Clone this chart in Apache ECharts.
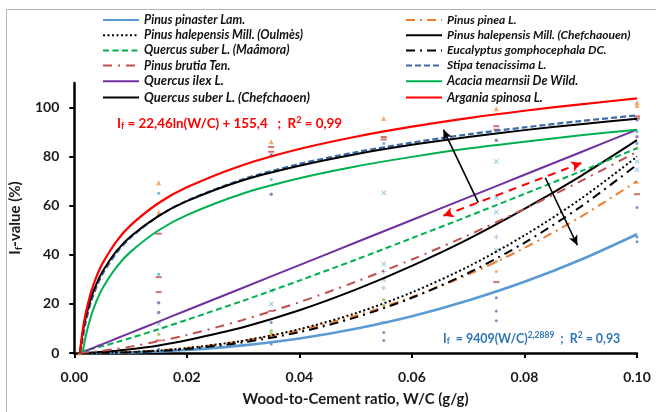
<!DOCTYPE html>
<html>
<head>
<meta charset="utf-8">
<script src="https://cdn.jsdelivr.net/npm/echarts@6/dist/echarts.min.js"></script>
<style>
  html, body { margin: 0; padding: 0; background: #fff; }
  #chart { width: 656px; height: 412px; }
</style>
</head>
<body>
<div id="chart"></div>
<script>
const wcRatio = [0.001, 0.0015, 0.002, 0.003, 0.004, 0.005, 0.0075, 0.01, 0.015, 0.02,
  0.03, 0.04, 0.05, 0.06, 0.07, 0.08, 0.09, 0.1];

// fitted curves, If-value (%)
const pinusPinaster = [0, 0, 0.01, 0.02, 0.03, 0.05, 0.13, 0.25, 0.63, 1.2, 3.1, 5.9, 9.9, 15.0, 21.4, 29.0, 38.0, 48.4];
const pinusHalepensisOulmes = [0, 0.01, 0.01, 0.03, 0.05, 0.08, 0.21, 0.4, 1.0, 2.0, 5.0, 9.7, 16.2, 24.7, 35.2, 47.9, 62.8, 80];
const quercusSuberMaamora = [0.45, 0.72, 1.0, 1.6, 2.2, 2.8, 4.4, 6.1, 9.7, 13.5, 21.3, 29.5, 38.0, 46.8, 55.7, 64.8, 74.0, 83.4];
const pinusBrutia = [0.08, 0.15, 0.23, 0.43, 0.66, 0.92, 1.7, 2.6, 4.8, 7.3, 13.5, 20.7, 29.0, 38.1, 48.0, 58.7, 70.0, 82];
const quercusIlex = [null, null, 0.8, 1.8, 2.7, 3.6, 5.9, 8.2, 12.8, 17.4, 26.6, 35.8, 45.0, 54.2, 63.4, 72.6, 81.8, 91.0];
const quercusSuberChef = [0, 8.1, 14.0, 22.5, 28.5, 33.1, 41.5, 47.5, 55.9, 61.9, 70.4, 76.3, 81.0, 84.8, 88.0, 90.8, 93.2, 95.4];
const pinusPinea = [0, 0.01, 0.01, 0.03, 0.06, 0.1, 0.23, 0.44, 1.1, 2.0, 5.0, 9.3, 15.2, 22.8, 31.9, 42.8, 55.5, 70];
const pinusHalepensisChef = [0, 0.06, 0.09, 0.19, 0.31, 0.46, 0.93, 1.5, 3.1, 5.2, 10.5, 17.4, 25.8, 35.5, 46.4, 58.7, 72.1, 86.7];
const eucalyptus = [0, 0, 0.01, 0.02, 0.03, 0.06, 0.15, 0.31, 0.81, 1.6, 4.3, 8.5, 14.5, 22.5, 32.6, 44.9, 59.6, 76.7];
const stipa = [0, 6.0, 12.3, 21.0, 27.2, 32.1, 40.8, 47.0, 55.8, 62.0, 70.8, 77.0, 81.8, 85.7, 89.1, 91.9, 94.5, 96.8];
const acacia = [null, 0.3, 6.5, 15.2, 21.4, 26.3, 35.0, 41.2, 50.0, 56.2, 65.0, 71.2, 76.0, 79.9, 83.3, 86.1, 88.7, 91.0];
const argania = [0, 9.4, 15.8, 24.9, 31.4, 36.4, 45.5, 52.0, 61.1, 67.5, 76.6, 83.1, 88.1, 92.2, 95.7, 98.7, 101.3, 103.7];

// measured points [W/C, If]
const ptsTriangle = [[0.001, 0], [0.015, 69.4], [0.015, 57.3], [0.035, 86.1], [0.055, 95.5], [0.075, 99.5], [0.1, 102.1], [0.1, 100.8]];
const ptsDash = [[0.015, 48.6], [0.015, 30.9], [0.015, 24.8], [0.015, 5.1], [0.035, 83.9], [0.035, 82], [0.035, 17.1],
  [0.055, 88], [0.055, 87], [0.055, 12.4], [0.075, 92.4], [0.075, 91], [0.075, 28.9], [0.1, 96.4], [0.1, 95.5], [0.1, 64.7]];
const ptsCyan = [[0.015, 65.1], [0.015, 32.1], [0.035, 70.7], [0.055, 85.4], [0.1, 90.1]];
const ptsPurple = [[0.015, 20.5], [0.015, 16.5], [0.035, 64.7], [0.035, 80.7], [0.075, 86.7], [0.1, 88.1]];
const ptsCross = [[0.015, 11.8], [0.035, 25.4], [0.035, 20], [0.055, 65.3], [0.055, 36.3], [0.055, 29.8],
  [0.075, 78], [0.075, 63.3], [0.075, 57.3], [0.075, 41.9], [0.1, 78], [0.1, 74.7]];
const ptsPlus = [[0.055, 33.2], [0.055, 26.5], [0.075, 47.3]];
const ptsOlive = [[0.015, 7.6], [0.035, 9.1], [0.035, 7.8], [0.055, 21.7], [0.055, 19.3], [0.075, 37.3], [0.1, 83.4]];
const ptsBlue = [[0.015, 1.6], [0.035, 3.7], [0.035, 12.4], [0.055, 8.4], [0.055, 5.1], [0.075, 22.5], [0.075, 17.1],
  [0.075, 13.1], [0.1, 59.3], [0.1, 47.3], [0.1, 45.3], [0.1, 94.8], [0.1, 85.4]];
const ptsOrange = [[0.1, 69.4], [0.075, 33.2]];

const xTicks = [0, 0.02, 0.04, 0.06, 0.08, 0.1];
const yTicks = [0, 20, 40, 60, 80, 100];

const legendLeft = ['Pinus pinaster Lam.', 'Pinus halepensis Mill. (Oulmès)', 'Quercus suber L. (Maâmora)',
  'Pinus brutia Ten.', 'Quercus ilex L.', 'Quercus suber L. (Chefchaoen)'];
const legendRight = ['Pinus pinea L.', 'Pinus halepensis Mill. (Chefchaouen)', 'Eucalyptus gomphocephala DC.',
  'Stipa tenacissima L.', 'Acacia mearnsii De Wild.', 'Argania spinosa L.'];

const FONT = 'Lato, "Open Sans", sans-serif';

function pairs(vals) {
  let out = [];
  for (let i = 0; i < wcRatio.length; i++) {
    if (vals[i] !== null) out.push([wcRatio[i], vals[i]]);
  }
  return out;
}

function curve(name, vals, color, type, width) {
  return {
    name: name,
    type: 'line',
    data: pairs(vals),
    symbol: 'none',
    smooth: 0.3,
    lineStyle: { color: color, width: width || 2, type: type || 'solid' },
    itemStyle: { color: color },
    z: 3
  };
}

function points(data, color, symbol, size) {
  return {
    name: '',
    type: 'scatter',
    data: data,
    symbol: symbol,
    symbolSize: size,
    itemStyle: { color: color },
    z: 2
  };
}

// the last two rows of each column use a bigger font in the original
function legendItems(names, small, big) {
  return names.map(function (n, i) {
    return { name: n, textStyle: { fontSize: i >= 4 ? big : small } };
  });
}

const crossPath = 'path://M0,1L1,0L5,4L9,0L10,1L6,5L10,9L9,10L5,6L1,10L0,9L4,5Z';
const plusPath = 'path://M4,0L6,0L6,4L10,4L10,6L6,6L6,10L4,10L4,6L0,6L0,4L4,4Z';

let myChart = echarts.init(document.getElementById('chart'));
let legendBase = {
  orient: 'vertical',
  top: 9,
  itemWidth: 36,
  itemHeight: 12,
  itemGap: 3.2,
  itemStyle: { opacity: 0 },
  textStyle: { fontFamily: FONT, fontStyle: 'italic', fontWeight: 'bold', fontSize: 12, color: '#111' }
};

let option = {
  animation: false,
  backgroundColor: '#fff',
  grid: { left: 67, right: 19, top: 83, bottom: 56 },
  legend: [
    Object.assign({}, legendBase, { data: legendItems(legendLeft, 12.3, 13), left: 97 }),
    Object.assign({}, legendBase, { data: legendItems(legendRight, 12, 12.5), left: 400 })
  ],
  xAxis: {
    type: 'value',
    min: 0,
    max: 0.1,
    interval: 0.02,
    name: 'Wood-to-Cement ratio, W/C (g/g)',
    nameLocation: 'middle',
    nameGap: 39,
    nameTextStyle: { fontFamily: FONT, fontWeight: 'bold', fontSize: 15, color: '#1a1a1a' },
    axisLine: { lineStyle: { color: '#000', width: 2.5 } },
    axisTick: { length: 5, lineStyle: { width: 2, color: '#000' }, customValues: xTicks },
    axisLabel: {
      margin: 17,
      fontFamily: FONT, fontWeight: 'bold', fontSize: 14, color: '#1a1a1a',
      customValues: xTicks,
      formatter: function (v) { return v.toFixed(2); }
    },
    splitLine: { show: false }
  },
  yAxis: {
    type: 'value',
    min: 0,
    max: 110,
    interval: 20,
    name: '{a|I}{s|f}{a|-value (%)}',
    nameLocation: 'middle',
    nameGap: 42,
    nameTextStyle: {
      rich: {
        a: { fontFamily: FONT, fontWeight: 'bold', fontSize: 15, color: '#1a1a1a' },
        s: { fontFamily: FONT, fontWeight: 'bold', fontSize: 10, color: '#1a1a1a', verticalAlign: 'bottom', padding: [7, 0, 0, 0] }
      }
    },
    axisLine: { show: true, lineStyle: { color: '#000', width: 2.5 } },
    axisTick: { show: true, length: 5, lineStyle: { width: 2, color: '#000' }, customValues: yTicks },
    axisLabel: {
      margin: 15,
      fontFamily: FONT, fontWeight: 'bold', fontSize: 14, color: '#1a1a1a',
      customValues: yTicks
    },
    splitLine: { show: false }
  },
  series: [
    points(ptsTriangle, '#F79646', 'triangle', 5),
    points(ptsDash, '#C0504D', 'rect', [6, 2]),
    points(ptsCyan, '#4BACC6', 'circle', 3),
    points(ptsPurple, '#8064A2', 'circle', 3.5),
    points(ptsCross, '#4BACC6', crossPath, 5),
    points(ptsPlus, '#95B3D7', plusPath, 5),
    points(ptsOlive, '#9BBB59', 'circle', 3.5),
    points(ptsBlue, '#4F81BD', 'circle', 3),
    points(ptsOrange, '#F79646', 'circle', 3),
    curve('Pinus pinaster Lam.', pinusPinaster, '#5B9BD5', 'solid', 2.6),
    curve('Pinus pinea L.', pinusPinea, '#ED7D31', [9, 5, 2, 5], 2),
    curve('Pinus halepensis Mill. (Oulmès)', pinusHalepensisOulmes, '#000', [2, 2.5], 2),
    curve('Pinus halepensis Mill. (Chefchaouen)', pinusHalepensisChef, '#000', 'solid', 2),
    curve('Quercus suber L. (Maâmora)', quercusSuberMaamora, '#00B050', [6, 3.5], 2),
    curve('Eucalyptus gomphocephala DC.', eucalyptus, '#000', [9, 5, 2, 5], 2),
    curve('Pinus brutia Ten.', pinusBrutia, '#C0504D', [9, 6, 2, 6], 2),
    curve('Stipa tenacissima L.', stipa, '#3C6AA8', [6, 3], 2.2),
    curve('Quercus ilex L.', quercusIlex, '#7030A0', 'solid', 2),
    curve('Acacia mearnsii De Wild.', acacia, '#00B050', 'solid', 2),
    curve('Quercus suber L. (Chefchaoen)', quercusSuberChef, '#000', 'solid', 2),
    Object.assign(curve('Argania spinosa L.', argania, '#FF0000', 'solid', 2.2), {
      markLine: {
        silent: true,
        animation: false,
        label: { show: false },
        emphasis: { disabled: true },
        data: [
          [{ coord: [0.0718, 61.3], symbol: 'none' }, { coord: [0.0656, 91.0], symbol: 'arrow', symbolSize: [7, 10] }],
          [{ coord: [0.0837, 71.4], symbol: 'none' }, { coord: [0.0894, 43.9], symbol: 'arrow', symbolSize: [7, 10] }]
        ],
        lineStyle: { color: '#000', width: 1.6, type: 'solid' }
      }
    }),
    {
      name: 'arrows',
      type: 'line',
      data: [],
      markLine: {
        silent: true,
        animation: false,
        label: { show: false },
        emphasis: { disabled: true },
        symbol: ['arrow', 'arrow'],
        symbolSize: [8, 10],
        data: [[{ coord: [0.0656, 55.9] }, { coord: [0.0901, 77.4] }]],
        lineStyle: { color: '#FF0000', width: 2, type: [8, 6] }
      }
    }
  ],
  graphic: [
    { type: 'line', shape: { x1: 6.5, y1: 9.5, x2: 656, y2: 9.5 }, style: { stroke: '#B4B4B4', lineWidth: 1 } },
    { type: 'line', shape: { x1: 6.5, y1: 9.5, x2: 6.5, y2: 412 }, style: { stroke: '#B4B4B4', lineWidth: 1 } },
    {
      type: 'text', left: 117, top: 116,
      style: {
        text: '{b|I}{s|f}{b| = 22,46ln(W/C) + 155,4   ;  R}{p|2}{b| = 0,99}',
        rich: {
          b: { fontFamily: FONT, fontWeight: 'bold', fontSize: 13.4, fill: '#FF0000' },
          s: { fontFamily: FONT, fontWeight: 'bold', fontSize: 9, fill: '#FF0000', verticalAlign: 'bottom', padding: [6, 0, 0, 0] },
          p: { fontFamily: FONT, fontWeight: 'bold', fontSize: 9, fill: '#FF0000', verticalAlign: 'top', padding: [0, 0, 6, 0] }
        }
      }
    },
    {
      type: 'text', left: 443, top: 331,
      style: {
        text: '{b|I}{s|f}{b|  = 9409(W/C)}{p|2,2889}{b|  ;  R}{p|2}{b| = 0,93}',
        rich: {
          b: { fontFamily: FONT, fontWeight: 'bold', fontSize: 12.4, fill: '#2E75B6' },
          s: { fontFamily: FONT, fontWeight: 'bold', fontSize: 8.5, fill: '#2E75B6', verticalAlign: 'bottom', padding: [6, 0, 0, 0] },
          p: { fontFamily: FONT, fontWeight: 'bold', fontSize: 8.5, fill: '#2E75B6', verticalAlign: 'top', padding: [0, 0, 6, 0] }
        }
      }
    }
  ]
};
myChart.setOption(option);
</script>
</body>
</html>
